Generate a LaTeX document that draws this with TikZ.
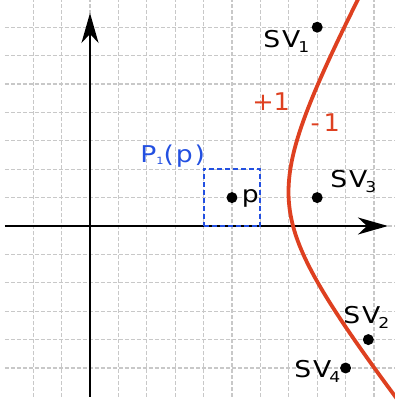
\documentclass[tikz,border=0pt]{standalone}
\usepackage{fontspec}
\setmainfont{DejaVu Sans}[FakeStretch=1.15,LetterSpace=8]
\newfontfamily\signfont{DejaVu Sans}[FakeStretch=1.05]
\usetikzlibrary{arrows.meta}
\definecolor{curvered}{RGB}{222,64,32}
\definecolor{boxblue}{RGB}{35,80,225}
\definecolor{gridgray}{RGB}{200,200,200}
\newcommand{\lblsub}[1]{\kern-1pt\raisebox{-2.5pt}{\fontsize{7.5}{8}\selectfont #1}}
\newcommand{\tinysub}[1]{\raisebox{-1pt}{\fontsize{5}{6}\selectfont #1}}
\begin{document}
\begin{tikzpicture}[x=0.5cm,y=0.5cm,
  gridline/.style={gridgray, line width=0.55pt, dash pattern=on 2pt off 1pt},
  axisline/.style={line width=1pt, -{Stealth[length=15pt,width=8.5pt,inset=4.5pt]}},
  dotnode/.style={circle, fill=black, inner sep=0pt, minimum size=5.5pt},
  lbl/.style={inner sep=0pt, anchor=base west, font=\fontsize{11.6}{13}\selectfont},
  signlbl/.style={inner sep=0pt, anchor=base west, text=curvered, font=\signfont\fontsize{12.2}{14}\selectfont},
  regionbox/.style={draw=boxblue, line width=1pt, dash pattern=on 2.5pt off 1.5pt, minimum size=1cm, inner sep=0pt},
  boundary/.style={curvered, line width=1.9pt}]
\useasboundingbox (-3.169,-6.197) rectangle (10.739,7.958);
\clip (-3.169,-6.197) rectangle (10.739,7.958);
% grid
\foreach \y in {-5,...,7} \draw[gridline] (-3,\y) -- (10.9,\y);
\foreach \x in {-2,...,10} \draw[gridline] (\x,-6.02) -- (\x,8.1);
% axes
\coordinate (xs) at (-3,0);
\coordinate (xe) at (10.49,0);
\coordinate (ys) at (0,-6.02);
\coordinate (ye) at (0,7.5);
\draw[axisline] (xs) -- (xe);
\draw[axisline] (ys) -- (ye);
% region box
\node[regionbox] (box) at (5,1) {};
% boundary curve
\draw[boundary] plot[domain=-6.8:8.8, samples=90, variable=\t, smooth]
  ({5.0-0.125*(\t-0.635)+0.675*sqrt(9+(\t-0.635)*(\t-0.635))}, {\t});
% points
\node[dotnode] (d1) at (8,7) {};
\node[dotnode] (d3) at (8,1) {};
\node[dotnode] (dp) at (5,1) {};
\node[dotnode] (d2) at (9.8,-4) {};
\node[dotnode] (d4) at (9,-5) {};
% labels
\node[lbl] (sv1) at (6.09,6.27) {SV\lblsub{1}};
\node[lbl] (sv3) at (8.45,1.34) {SV\lblsub{3}};
\node[lbl] (sv2) at (8.91,-3.45) {SV\lblsub{2}};
\node[lbl] (sv4) at (7.18,-5.32) {SV\lblsub{4}};
\node[lbl] (plbl) at (5.33,0.81) {p};
\node[lbl, text=boxblue] (boxlbl) at (1.76,2.25) {P\tinysub{1}(p)};
\node[signlbl] (plus) at (5.70,4.08) {+1};
\node[signlbl] (minus) at (7.75,3.31) {-\kern2pt1};
\end{tikzpicture}
\end{document}
